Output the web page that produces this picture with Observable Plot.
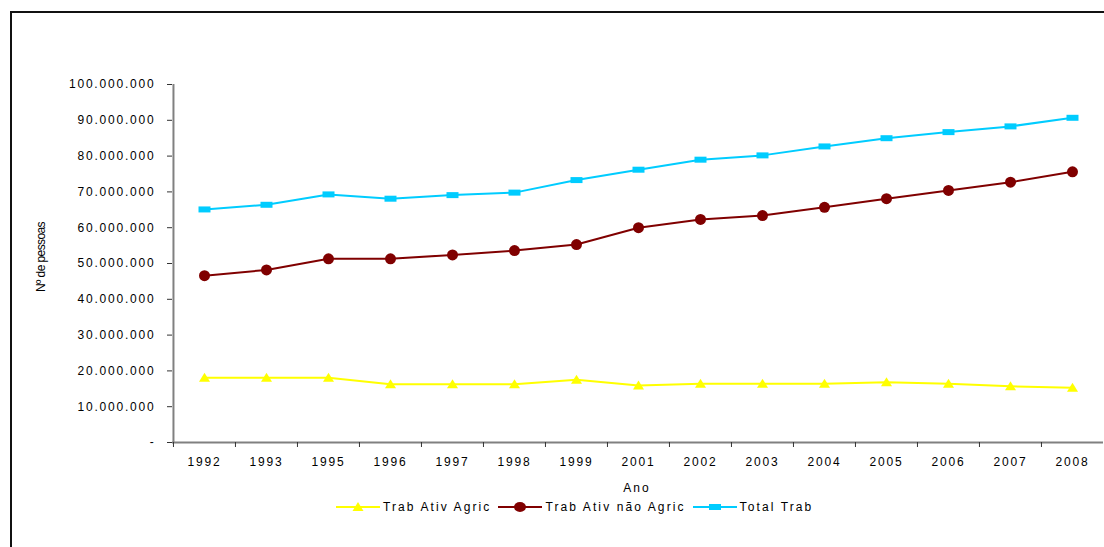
<!DOCTYPE html>
<html>
<head>
<meta charset="utf-8">
<script src="https://cdn.jsdelivr.net/npm/d3@7"></script>
<script src="https://cdn.jsdelivr.net/npm/@observablehq/plot@0.6"></script>
<style>
  body { margin: 0; background: #fff; font-family: "Liberation Sans", Arial, sans-serif; }
  #wrap { position: relative; width: 1104px; height: 547px; overflow: hidden; }
  #frame { position: absolute; left: 10px; top: 11px; width: 1200px; height: 700px; border-left: 2px solid #111; border-top: 2px solid #111; }
  #chart { position: absolute; left: 0; top: 0; }
  #ylab { position: absolute; left: 41px; top: 257px; transform: translate(-50%, -50%) rotate(-90deg); font-size: 12px; letter-spacing: -0.6px; white-space: nowrap; color: #000; }
  #xlab { position: absolute; left: 637px; top: 488px; transform: translate(-50%, -50%); font-size: 12px; letter-spacing: 2px; color: #000; }
  #legend { position: absolute; left: 336px; top: 500px; display: flex; align-items: center; font-size: 12px; letter-spacing: 2.1px; color: #000; white-space: nowrap; }
  #legend .item { display: flex; align-items: center; margin-right: 7px; }
  #legend svg { margin-right: 3px; }
</style>
</head>
<body>
<div id="wrap">
  <div id="frame"></div>
  <div id="chart"></div>
  <div id="ylab">Nº de pessoas</div>
  <div id="xlab">Ano</div>
  <div id="legend"></div>
</div>
<script>
// ---- data ----
const years = ["1992","1993","1995","1996","1997","1998","1999","2001","2002","2003","2004","2005","2006","2007","2008"];
const agric    = [18.1,18.1,18.1,16.3,16.3,16.3,17.5,15.9,16.4,16.4,16.4,16.8,16.4,15.7,15.3]; // millions
const naoAgric = [46.6,48.2,51.3,51.3,52.4,53.6,55.3,60.0,62.3,63.4,65.7,68.1,70.4,72.7,75.6];
const total    = [65.1,66.4,69.3,68.1,69.1,69.8,73.3,76.2,79.0,80.2,82.7,85.0,86.7,88.3,90.7];
const seriesNames = ["Trab Ativ Agric", "Trab Ativ não Agric", "Total Trab"];
const yTicks = [0,10,20,30,40,50,60,70,80,90,100].map(d => d * 1e6);

const colors = ["#FFFF00", "#800000", "#00CCFF"];

// custom marker symbols
const triSym = {draw(ctx) { ctx.moveTo(0,-5); ctx.lineTo(5.5,4); ctx.lineTo(-5.5,4); ctx.closePath(); }};
const ellSym = {draw(ctx) { ctx.ellipse ? ctx.ellipse(0,0,6,5,0,0,2*Math.PI) : ctx.arc(0,0,5.5,0,2*Math.PI); }};
const rectSym = {draw(ctx) { ctx.rect(-6,-3,12,6); }};
const symbols = [triSym, ellSym, rectSym];

const rows = (vals, s) => years.map((y, i) => ({year: y, value: vals[i] * 1e6, series: s}));
const dataSets = [rows(agric, seriesNames[0]), rows(naoAgric, seriesNames[1]), rows(total, seriesNames[2])];

const W = 1104, H = 480, ML = 172, MR = 1, MT = 84, MB = 38;
const bw = (W - ML - MR) / years.length;
const fmt = d => d === 0 ? "-" : d3.format(",")(d).replace(/,/g, ".");

const marks = [
  Plot.ruleY([0], {stroke: "#808080", strokeWidth: 2}),
  Plot.ruleX([years[0]], {dx: -bw / 2, y1: 0, y2: 100e6, stroke: "#808080", strokeWidth: 2}),
  Plot.axisY({ticks: yTicks, tickSize: 5, tickPadding: 12, tickFormat: fmt, label: null, fontSize: 12, stroke: "#333", fill: "#000"}),
  Plot.axisX({tickSize: 5, tickFormat: () => "", dx: -bw / 2, label: null, stroke: "#333"}),
  Plot.axisX({tickSize: 0, tickPadding: 15, label: null, fontSize: 12, fill: "#000"})
];
dataSets.forEach((ds, i) => {
  marks.push(Plot.line(ds, {x: "year", y: "value", stroke: colors[i], strokeWidth: 2}));
  marks.push(Plot.dot(ds, {x: "year", y: "value", fill: colors[i], stroke: "none", symbol: symbols[i], r: 5}));
});

const chart = Plot.plot({
  width: W, height: H,
  marginLeft: ML, marginRight: MR, marginTop: MT, marginBottom: MB,
  style: {fontFamily: "'Liberation Sans', Arial, sans-serif", letterSpacing: "1.8px", background: "transparent", overflow: "visible"},
  x: {type: "band", domain: years, padding: 0, axis: null},
  y: {domain: [0, 100e6], axis: null},
  marks
});
document.getElementById("chart").appendChild(chart);

// legend
const legend = document.getElementById("legend");
const shapes = [
  '<polygon points="22,2 27.5,11 16.5,11" />',
  '<ellipse cx="22" cy="7" rx="6" ry="5" />',
  '<rect x="16" y="4" width="12" height="6" />'
];
seriesNames.forEach((name, i) => {
  const item = document.createElement("div");
  item.className = "item";
  item.innerHTML = `<svg width="44" height="14"><line x1="0" x2="44" y1="7" y2="7" stroke="${colors[i]}" stroke-width="2"/><g fill="${colors[i]}">${shapes[i]}</g></svg><span>${name}</span>`;
  legend.appendChild(item);
});
</script>
</body>
</html>
